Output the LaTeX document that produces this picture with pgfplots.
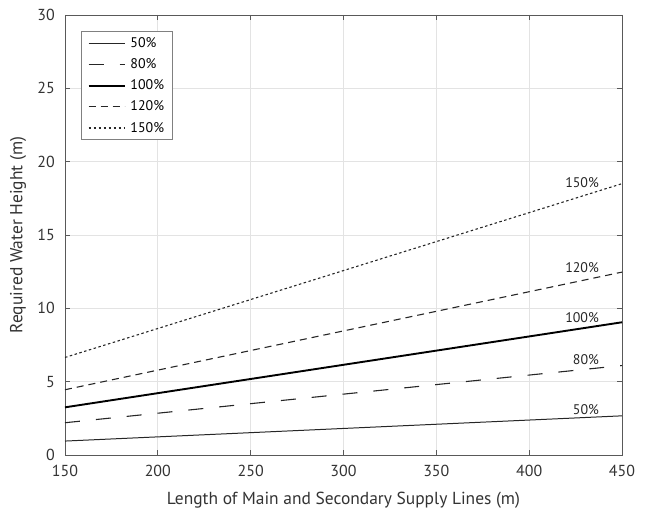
\documentclass[border=0pt]{standalone}
\usepackage{fontspec}
\setmainfont{PT Sans}
\usepackage{pgfplots}
\pgfplotsset{compat=1.18}
\begin{document}
\fontsize{12}{14}\selectfont
\begin{tikzpicture}
\begin{axis}[
  scale only axis,
  width=557bp, height=440bp,
  xmin=150, xmax=450, ymin=0, ymax=30,
  xtick={150,200,...,450}, ytick={0,5,...,30},
  grid=major,
  major grid style={gray!22, line width=0.8pt},
  axis line style={gray!70!black, line width=0.7pt},
  tick style={gray!70!black, line width=0.7pt},
  tick align=inside,
  major tick length=5bp,
  /pgf/number format/assume math mode=true,
  tick label style={font=\fontsize{16}{18}\selectfont, text=black!80},
  xticklabel style={yshift=-6bp},
  yticklabel style={xshift=-6bp},
  xlabel={Length of Main and Secondary Supply Lines (m)},
  ylabel={Required Water Height (m)},
  every axis x label/.style={at={(axis description cs:0.5,-0.1023)}, anchor=center, font=\fontsize{17.5}{19}\selectfont, text=black!80},
  every axis y label/.style={at={(axis description cs:-0.0844,0.5)}, anchor=center, rotate=90, font=\fontsize{17.5}{19}\selectfont, text=black!80},
  legend style={at={(0.029,0.964)}, anchor=north west, draw=gray, line width=0.9pt,
    font=\fontsize{14}{16}\selectfont, row sep=5.5bp, inner xsep=6bp, inner ysep=4bp,
    /tikz/every odd column/.append style={column sep=3bp}},
  legend cell align=left,
  legend image code/.code={\draw[#1] (0bp,0bp) -- (36bp,0bp);},
  clip=false,
]
\addplot[black!85, line width=1pt] coordinates {(150,0.95) (450,2.67)};
\addlegendentry{50\%}
\addplot[black!85, line width=1.1pt, dash pattern=on 15bp off 16bp] coordinates {(150,2.2) (450,6.1)};
\addlegendentry{80\%}
\addplot[black, line width=1.9pt] coordinates {(150,3.25) (450,9.05)};
\addlegendentry{100\%}
\addplot[black!85, line width=1.1pt, dash pattern=on 7bp off 5bp] coordinates {(150,4.45) (450,12.47)};
\addlegendentry{120\%}
\addplot[black!85, line width=1.1pt, dash pattern=on 2.5bp off 2.5bp] coordinates {(150,6.65) (450,18.5)};
\addlegendentry{150\%}
\node[font=\fontsize{14}{16}\selectfont, text=black!85] at (axis cs:428.5,18.6) {150\%};
\node[font=\fontsize{14}{16}\selectfont, text=black!85] at (axis cs:428.5,12.8) {120\%};
\node[font=\fontsize{14}{16}\selectfont, text=black!85] at (axis cs:428.5,9.34) {100\%};
\node[font=\fontsize{14}{16}\selectfont, text=black!85] at (axis cs:430.6,6.48) {80\%};
\node[font=\fontsize{14}{16}\selectfont, text=black!85] at (axis cs:430.6,3.1) {50\%};
\end{axis}
\pgfresetboundingbox
\path ([shift={(-65bp,-58bp)}]current axis.south west) rectangle ([shift={(23bp,15bp)}]current axis.north east);
\end{tikzpicture}
\end{document}
